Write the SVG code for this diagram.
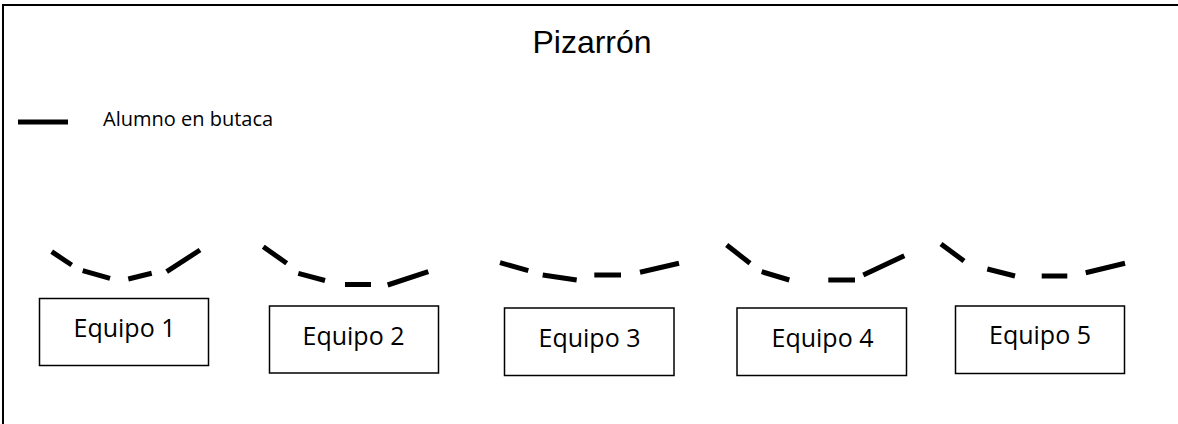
<svg xmlns="http://www.w3.org/2000/svg" width="1178" height="424" viewBox="0 0 1178 424">
  <style>
    .frame { fill: none; stroke: #000; stroke-width: 2; }
    .seat { stroke: #000; stroke-width: 5; stroke-linecap: butt; fill: none; }
    .box { fill: #fff; stroke: #000; stroke-width: 1.5; }
    .lbl { font-family: "Open Sans", "Noto Sans", sans-serif; font-size: 25px; fill: #000; text-anchor: middle; }
    .legend { font-family: "Open Sans", "Noto Sans", sans-serif; font-size: 20px; fill: #000; }
    .title { font-family: "Liberation Sans", Arial, sans-serif; font-size: 32px; fill: #000; text-anchor: middle; }
  </style>
  <rect width="1178" height="424" fill="#fff"/>
  <polyline class="frame" points="3,424 3,5 1178,5"/>
  <g id="pizarron">
    <text class="title" x="592" y="52.5">Pizarrón</text>
  </g>
  <g id="legend">
    <line class="seat" x1="18" y1="122" x2="68" y2="122"/>
    <text class="legend" x="103" y="126">Alumno en butaca</text>
  </g>
  <g id="seats1">
    <line class="seat" x1="51.7" y1="251.7" x2="71.7" y2="265"/>
    <line class="seat" x1="82.7" y1="270.7" x2="110" y2="278.3"/>
    <line class="seat" x1="128.3" y1="279" x2="151.7" y2="273.3"/>
    <line class="seat" x1="166.7" y1="271.7" x2="200" y2="250"/>
  </g>
  <g id="equipo1">
    <rect class="box" x="39.5" y="298.5" width="169" height="67"/>
    <text class="lbl" x="124.5" y="336.7">Equipo 1</text>
  </g>
  <g id="seats2">
    <line class="seat" x1="263.3" y1="246.7" x2="286.7" y2="263.3"/>
    <line class="seat" x1="298.3" y1="273.3" x2="325" y2="280.5"/>
    <line class="seat" x1="345" y1="284.5" x2="371" y2="284.5"/>
    <line class="seat" x1="387.7" y1="285" x2="428.3" y2="271.7"/>
  </g>
  <g id="equipo2">
    <rect class="box" x="269.5" y="306" width="169" height="67"/>
    <text class="lbl" x="353.5" y="345">Equipo 2</text>
  </g>
  <g id="seats3">
    <line class="seat" x1="500" y1="262.7" x2="528.3" y2="270.7"/>
    <line class="seat" x1="542.7" y1="275" x2="576.7" y2="280"/>
    <line class="seat" x1="594.3" y1="275" x2="621" y2="275"/>
    <line class="seat" x1="640" y1="272.3" x2="679" y2="263.3"/>
  </g>
  <g id="equipo3">
    <rect class="box" x="504.5" y="308" width="169.5" height="67.5"/>
    <text class="lbl" x="589.5" y="346.7">Equipo 3</text>
  </g>
  <g id="seats4">
    <line class="seat" x1="726.7" y1="245" x2="750" y2="263.3"/>
    <line class="seat" x1="761.7" y1="271.7" x2="789.3" y2="280"/>
    <line class="seat" x1="828.3" y1="280" x2="855" y2="280"/>
    <line class="seat" x1="863.3" y1="275" x2="904.3" y2="255.7"/>
  </g>
  <g id="equipo4">
    <rect class="box" x="737" y="308" width="169.5" height="67.5"/>
    <text class="lbl" x="822.5" y="346.7">Equipo 4</text>
  </g>
  <g id="seats5">
    <line class="seat" x1="941" y1="244" x2="964" y2="261"/>
    <line class="seat" x1="987.3" y1="269" x2="1015" y2="276"/>
    <line class="seat" x1="1041.7" y1="276" x2="1067.3" y2="276"/>
    <line class="seat" x1="1085.7" y1="272.7" x2="1125" y2="263.3"/>
  </g>
  <g id="equipo5">
    <rect class="box" x="955.5" y="306" width="169" height="67.5"/>
    <text class="lbl" x="1040" y="344.3">Equipo 5</text>
  </g>
  <g id="connectors"/>
</svg>
